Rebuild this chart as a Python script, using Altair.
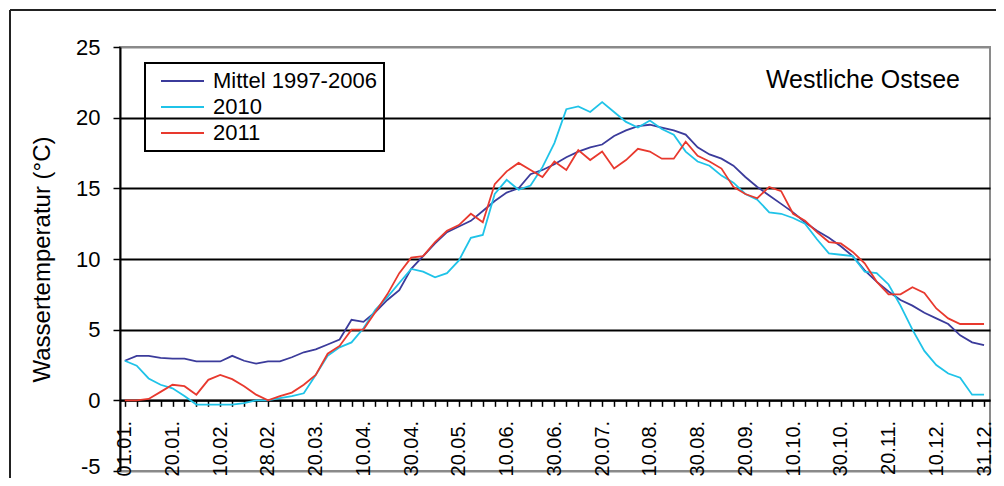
import json
import altair as alt
import pandas as pd

# ---- data (73 points, 5-day steps) ----
x_labels = ["01.01.", "20.01.", "10.02.", "28.02.", "20.03.", "10.04.", "30.04.",
            "20.05.", "10.06.", "30.06.", "20.07.", "10.08.", "30.08.", "20.09.",
            "10.10.", "30.10.", "20.11.", "10.12.", "31.12."]
series_names = ["Mittel 1997-2006", "2010", "2011"]
y_ticks = [-5, 0, 5, 10, 15, 20, 25]

mittel = [2.8, 3.15, 3.15, 3.0, 2.95, 2.95, 2.75, 2.75, 2.75, 3.15,
          2.8, 2.6, 2.75, 2.75, 3.05, 3.4, 3.6, 3.95, 4.3, 5.7,
          5.55, 6.25, 7.1, 7.8, 9.3, 10.2, 11.1, 11.9, 12.3, 12.7,
          13.4, 14.1, 14.7, 15.0, 16.0, 16.3, 16.7, 17.2, 17.6, 17.9,
          18.1, 18.7, 19.1, 19.4, 19.5, 19.3, 19.1, 18.8, 17.9, 17.4,
          17.1, 16.6, 15.8, 15.1, 14.5, 13.9, 13.3, 12.6, 12.0, 11.5,
          10.9, 10.2, 9.2, 8.4, 7.7, 7.1, 6.7, 6.2, 5.8, 5.4,
          4.6, 4.1, 3.9]
y2010 = [2.8, 2.45, 1.55, 1.1, 0.85, 0.3, -0.3, -0.3, -0.3, -0.3,
         -0.2, 0.0, 0.0, 0.15, 0.3, 0.5, 1.8, 3.15, 3.75, 4.1,
         5.1, 6.4, 7.3, 8.3, 9.3, 9.1, 8.7, 9.0, 9.9, 11.5,
         11.7, 14.6, 15.6, 14.9, 15.2, 16.5, 18.2, 20.6, 20.8, 20.4,
         21.1, 20.4, 19.7, 19.3, 19.8, 19.2, 18.8, 17.6, 16.9, 16.6,
         15.9, 15.4, 14.6, 14.2, 13.3, 13.2, 12.9, 12.5, 11.4, 10.4,
         10.3, 10.2, 9.1, 9.0, 8.2, 6.7, 5.0, 3.5, 2.5, 1.9,
         1.6, 0.4, 0.4]
y2011 = [0.0, 0.0, 0.1, 0.6, 1.1, 1.0, 0.4, 1.45, 1.8, 1.5,
         1.0, 0.4, 0.0, 0.3, 0.55, 1.1, 1.8, 3.3, 3.85, 5.0,
         5.0, 6.25, 7.5, 9.0, 10.1, 10.2, 11.2, 12.0, 12.4, 13.2,
         12.6, 15.3, 16.2, 16.8, 16.3, 15.8, 16.9, 16.3, 17.7, 17.0,
         17.6, 16.4, 17.0, 17.8, 17.6, 17.1, 17.1, 18.3, 17.3, 16.9,
         16.4, 15.1, 14.6, 14.3, 15.1, 14.8, 13.2, 12.7, 11.9, 11.2,
         11.1, 10.5, 9.7, 8.4, 7.5, 7.5, 8.0, 7.6, 6.5, 5.8,
         5.4, 5.4, 5.4]

colors = ["#3b3b9b", "#1fc3e8", "#e8392e"]
FONT = "Liberation Sans, Arial, sans-serif"
W, H = 870, 424

rows = []
for name, vals in zip(series_names, [mittel, y2010, y2011]):
    for i, v in enumerate(vals):
        rows.append({"i": i, "t": v, "s": name})
df = pd.DataFrame(rows)

label_expr = "datum.value % 4 == 0 ? " + json.dumps(x_labels) + "[datum.value / 4] : ''"

x_enc = alt.X(
    "i:Q",
    scale=alt.Scale(domain=[-0.4, 72.5], nice=False, zero=False),
    axis=alt.Axis(
        values=list(range(73)), labelExpr=label_expr, labelAngle=270,
        labelAlign="right", labelBaseline="middle", labelPadding=14,
        labelFontSize=20, labelFont=FONT, labelColor="black",
        tickSize=6, tickColor="black", tickWidth=1.5,
        domainColor="black", domainWidth=2, offset=-H * 5 / 30,
        grid=False, title=None, labelOverlap=False, labelBound=False,
        labelFlush=False,
    ),
)
y_enc = alt.Y(
    "t:Q",
    scale=alt.Scale(domain=[-5, 25], nice=False, zero=False),
    axis=alt.Axis(
        values=y_ticks, labelExpr="'' + datum.value",
        title="Wassertemperatur (°C)", titleFontSize=24,
        titleFont=FONT, titleFontWeight="normal", titleColor="black",
        titlePadding=21, labelFontSize=22, labelFont=FONT, labelColor="black",
        labelPadding=13, tickSize=7, tickColor="black", tickWidth=1.5,
        domainColor="black", domainWidth=2, grid=True,
        labelOffset=alt.condition("datum.value == -5", alt.value(-5), alt.value(0)),
        gridColor=alt.condition("datum.value == 25 || datum.value == -5",
                                alt.value("#8a8a8a"), alt.value("black")),
        gridWidth=2, labelFlush=False,
    ),
)

lines = alt.Chart(df).mark_line(strokeWidth=1.8).encode(
    x=x_enc,
    y=y_enc,
    color=alt.Color(
        "s:N",
        scale=alt.Scale(domain=series_names, range=colors),
        sort=series_names,
        legend=alt.Legend(
            orient="none", legendX=25, legendY=16, title=None,
            symbolType="stroke", symbolSize=1849, symbolStrokeWidth=2,
            symbolOffset=8, clipHeight=22, rowPadding=4, labelFontSize=22,
            labelFont=FONT, labelColor="black", padding=7, labelLimit=400,
            strokeColor="black", labelOffset=8,
        ),
    ),
    order=alt.Order("i:Q"),
)

one = pd.DataFrame({"a": [0]})
title_txt = alt.Chart(one).mark_text(
    text="Westliche Ostsee", align="right", baseline="alphabetic",
    fontSize=25, font=FONT, color="black",
).encode(x=alt.value(840), y=alt.value(41))

frame_top = alt.Chart(one).mark_rule(color="#222", strokeWidth=2).encode(
    x=alt.value(-110), x2=alt.value(900), y=alt.value(-37))
frame_left = alt.Chart(one).mark_rule(color="#222", strokeWidth=2).encode(
    x=alt.value(-110), y=alt.value(-37), y2=alt.value(460))

chart = alt.layer(frame_top, frame_left, lines, title_txt).properties(
    width=W, height=H,
    autosize=alt.AutoSizeParams(type="none"),
    padding={"left": 112, "top": 39, "right": 6, "bottom": 7},
).configure_view(stroke="#8a8a8a", strokeWidth=2).configure_legend(strokeWidth=2)

chart.save("out.html", embed_options={"renderer": "svg", "actions": False})
